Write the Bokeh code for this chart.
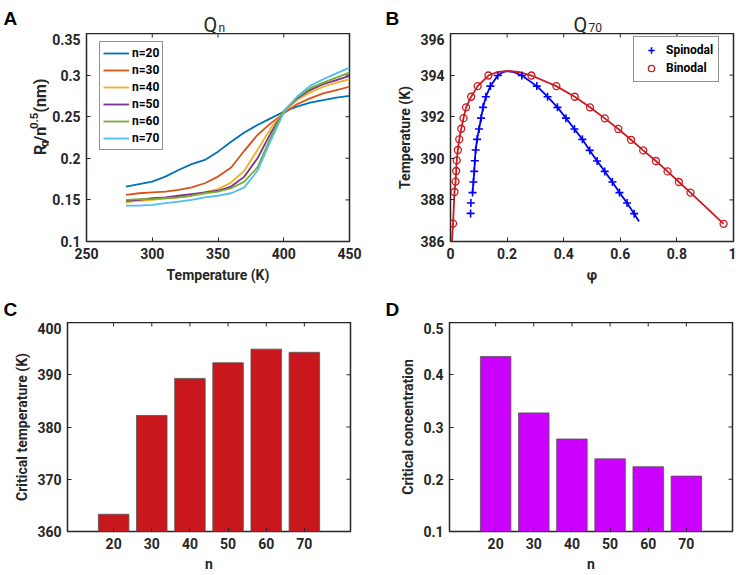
from bokeh.plotting import figure
from bokeh.layouts import column, row
from bokeh.models import (Range1d, FixedTicker, CustomJSTickFormatter,
                          Legend, LegendItem, Label)
from bokeh.core.properties import value
from bokeh.embed import file_html
from bokeh.resources import INLINE

# ---------------- data ----------------
# Panel A: Rg / n^0.5 vs temperature
temperature = [280, 290, 300, 310, 320, 330, 340, 350, 360, 370, 380, 390, 400, 410, 420, 430, 440, 450]
rg_n20 = [0.166, 0.169, 0.172, 0.178, 0.186, 0.193, 0.198, 0.208, 0.220, 0.231, 0.240, 0.248, 0.256, 0.262, 0.267, 0.270, 0.273, 0.275]
rg_n30 = [0.156, 0.158, 0.159, 0.160, 0.162, 0.165, 0.170, 0.178, 0.189, 0.209, 0.228, 0.242, 0.254, 0.265, 0.272, 0.278, 0.282, 0.286]
rg_n40 = [0.147, 0.149, 0.150, 0.152, 0.153, 0.155, 0.159, 0.163, 0.171, 0.185, 0.210, 0.236, 0.256, 0.270, 0.279, 0.286, 0.291, 0.295]
rg_n50 = [0.149, 0.150, 0.152, 0.153, 0.155, 0.157, 0.159, 0.161, 0.166, 0.178, 0.200, 0.230, 0.256, 0.272, 0.282, 0.289, 0.294, 0.299]
rg_n60 = [0.150, 0.151, 0.151, 0.152, 0.153, 0.155, 0.158, 0.160, 0.164, 0.172, 0.189, 0.225, 0.257, 0.273, 0.284, 0.291, 0.297, 0.303]
rg_n70 = [0.143, 0.143, 0.144, 0.146, 0.148, 0.150, 0.153, 0.155, 0.158, 0.165, 0.185, 0.221, 0.255, 0.274, 0.287, 0.295, 0.302, 0.309]
series_labels = ["n=20", "n=30", "n=40", "n=50", "n=60", "n=70"]

# Panel B: phase diagram of Q70
spinodal_phi = [0.071, 0.072, 0.078, 0.081, 0.084, 0.086, 0.089, 0.094, 0.101, 0.108, 0.115, 0.125, 0.141, 0.167,
                0.252, 0.305, 0.343, 0.378, 0.408, 0.438, 0.466, 0.492, 0.518, 0.545, 0.572, 0.597, 0.624, 0.649]
spinodal_T = [387.35, 387.85, 388.35, 388.86, 389.37, 389.88, 390.40, 390.91, 391.41, 391.93, 392.45, 392.96, 393.47, 393.98,
              393.98, 393.47, 392.96, 392.45, 391.93, 391.41, 390.91, 390.38, 389.87, 389.37, 388.86, 388.35, 387.85, 387.34]
spinodal_fit_phi = [0.078, 0.081, 0.084, 0.086, 0.089, 0.094, 0.101, 0.108, 0.115, 0.125, 0.141, 0.167, 0.185, 0.200,
                    0.222, 0.252, 0.305, 0.343, 0.378, 0.408, 0.438, 0.466, 0.492, 0.518, 0.545, 0.572, 0.597, 0.624, 0.649, 0.666]
spinodal_fit_T = [388.35, 388.86, 389.37, 389.88, 390.40, 390.91, 391.41, 391.93, 392.45, 392.96, 393.47, 393.98, 394.14, 394.19,
                  394.15, 393.98, 393.47, 392.96, 392.45, 391.93, 391.41, 390.91, 390.38, 389.87, 389.37, 388.86, 388.35, 387.85, 387.34, 386.96]
binodal_phi = [0.009, 0.014, 0.018, 0.020, 0.022, 0.026, 0.031, 0.038, 0.046, 0.055, 0.073, 0.096, 0.134,
               0.286, 0.374, 0.439, 0.493, 0.545, 0.593, 0.638, 0.681, 0.726, 0.767, 0.807, 0.848, 0.965]
binodal_T = [386.86, 388.38, 388.88, 389.39, 389.90, 390.40, 390.91, 391.42, 391.93, 392.45, 392.96, 393.47, 393.98,
             393.98, 393.47, 392.96, 392.45, 391.92, 391.41, 390.89, 390.38, 389.87, 389.37, 388.86, 388.35, 386.85]
binodal_fit_phi = [0.005, 0.009, 0.014, 0.018, 0.020, 0.022, 0.026, 0.031, 0.038, 0.046, 0.055, 0.073, 0.096, 0.134,
                   0.165, 0.200, 0.240, 0.286, 0.374, 0.439, 0.493, 0.545, 0.593, 0.638, 0.681, 0.726, 0.767, 0.807, 0.848, 0.965]
binodal_fit_T = [386.0, 386.86, 388.38, 388.88, 389.39, 389.90, 390.40, 390.91, 391.42, 391.93, 392.45, 392.96, 393.47, 393.98,
                 394.14, 394.20, 394.15, 393.98, 393.47, 392.96, 392.45, 391.92, 391.41, 390.89, 390.38, 389.87, 389.37, 388.86, 388.35, 386.85]

# Panels C, D: critical values vs chain length
chain_n = [20, 30, 40, 50, 60, 70]
critical_temperature = [363.3, 382.2, 389.3, 392.3, 394.9, 394.3]
critical_concentration = [0.435, 0.327, 0.277, 0.239, 0.224, 0.206]

# ticks
a_xticks = [250, 300, 350, 400, 450]
a_yticks = [0.1, 0.15, 0.2, 0.25, 0.3, 0.35]
b_xticks = [0, 0.2, 0.4, 0.6, 0.8, 1.0]
b_yticks = [386, 388, 390, 392, 394, 396]
c_yticks = [360, 370, 380, 390, 400]
d_yticks = [0.1, 0.2, 0.3, 0.4, 0.5]

# ---------------- style ----------------
AX = "#262626"
FONT = "Roboto"
LETTER_FONT = "Liberation Sans"
LINE_COLORS = ["#0072BD", "#D95319", "#EDB120", "#7E2F8E", "#77AC30", "#4DBEEE"]
RED = "#CC1A1F"
BLUE = "#0000FF"
BAR_RED = "#C8181E"
BAR_MAGENTA = "#CC00FF"
TICK_PX = 4

fmt_code = "return String(parseFloat(tick.toFixed(4)));"


def style_axis(ax, ticks, label=None, label_standoff=5):
    ax.ticker = FixedTicker(ticks=ticks)
    ax.formatter = CustomJSTickFormatter(code=fmt_code)
    ax.major_tick_in = TICK_PX
    ax.major_tick_out = 0
    ax.minor_tick_line_color = None
    ax.axis_line_color = None
    ax.major_tick_line_color = AX
    ax.major_tick_line_width = 1
    ax.major_label_text_font = FONT
    ax.major_label_text_font_style = "bold"
    ax.major_label_text_font_size = "14px"
    ax.major_label_text_color = AX
    ax.major_label_standoff = 6
    if label is not None:
        ax.axis_label = label
        ax.axis_label_text_font = FONT
        ax.axis_label_text_font_style = "bold"
        ax.axis_label_text_font_size = "14px"
        ax.axis_label_text_color = AX
        ax.axis_label_standoff = label_standoff


def make_fig(w, h, xr, yr, xt, yt, bl, br, bt, bb, fw, fh, xlabel=None, ylabel=None, xls=5):
    p = figure(width=w, height=h, x_range=Range1d(*xr), y_range=Range1d(*yr), title=None,
               output_backend="svg", toolbar_location=None,
               min_border_left=bl, min_border_right=br, min_border_top=bt, min_border_bottom=bb)
    p.xgrid.visible = False
    p.ygrid.visible = False
    p.outline_line_color = AX
    p.outline_line_width = 1.5
    p.outline_line_alpha = 1.0
    p.background_fill_color = "white"
    p.border_fill_color = "white"
    style_axis(p.xaxis[0], xt, xlabel, xls)
    style_axis(p.yaxis[0], yt, ylabel, 4)
    # mirrored inward ticks on the top and right edges of the box
    dy = (yr[1] - yr[0]) * TICK_PX / fh
    dx = (xr[1] - xr[0]) * TICK_PX / fw
    p.segment(x0=xt, y0=[yr[1]] * len(xt), x1=xt, y1=[yr[1] - dy] * len(xt),
              line_color=AX, line_width=1)
    p.segment(x0=[xr[1]] * len(yt), y0=yt, x1=[xr[1] - dx] * len(yt), y1=yt,
              line_color=AX, line_width=1)
    return p


def text_strip(w, h):
    # a blank figure (pixel coordinates) that only carries texts
    s = figure(width=w, height=h, x_range=Range1d(0, w), y_range=Range1d(0, h), title=None,
               output_backend="svg", toolbar_location=None, x_axis_type=None, y_axis_type=None,
               min_border_left=0, min_border_right=0, min_border_top=0, min_border_bottom=0)
    s.xgrid.visible = False
    s.ygrid.visible = False
    s.outline_line_color = None
    s.background_fill_color = "white"
    s.border_fill_color = "white"
    return s


def put(s, x, y, txt, size, style="normal", font=FONT, color=AX):
    s.add_layout(Label(x=x, y=y, x_units="data", y_units="data", text=txt,
                       text_font=font, text_font_size=size, text_font_style=style,
                       text_color=color, text_align="left", text_baseline="alphabetic"))


def put_rot(s, x, y, txt, size, style="bold"):
    s.add_layout(Label(x=x, y=y, x_units="data", y_units="data", text=txt,
                       text_font=FONT, text_font_size=size, text_font_style=style,
                       text_color=AX, angle=90, angle_units="deg",
                       text_align="left", text_baseline="alphabetic"))


# ---------------- header strip (letters A, B and titles) ----------------
hdr1 = text_strip(736, 33)          # y 0..33
put(hdr1, 3, 15, "A", "19px", "bold", LETTER_FONT, "black")
put(hdr1, 203, 9, "Q", "20px")
put(hdr1, 218, 6, "n", "12px")
put(hdr1, 385, 15, "B", "19px", "bold", LETTER_FONT, "black")
put(hdr1, 573, 9, "Q", "20px")
put(hdr1, 588, 6, "70", "12px")

FH1 = 208
FH2 = 209

# ---------------- y label strip for panel A ----------------
ylabA = text_strip(49, 255)         # x 0..49, y 33..288
xb = 40
y0 = 106
put_rot(ylabA, xb, y0, "R", "16px")
put_rot(ylabA, xb + 3.5, y0 + 10, "g", "11.5px")
put_rot(ylabA, xb, y0 + 16.4, "/n", "16px")
put_rot(ylabA, xb - 7, y0 + 31.8, "0.5", "11.5px")
put_rot(ylabA, xb, y0 + 52, "(nm)", "16px")

# ---------------- Panel A ----------------
pA = make_fig(326, 255, (250, 450), (0.1, 0.35), a_xticks, a_yticks, 34, 26, 0, 47, 266, FH1,
              xlabel="Temperature (K)")
items = []
for ys, col, lab in zip([rg_n20, rg_n30, rg_n40, rg_n50, rg_n60, rg_n70], LINE_COLORS, series_labels):
    r = pA.line(temperature, ys, line_color=col, line_width=1.8)
    items.append(LegendItem(label=lab, renderers=[r]))
legA = Legend(items=items, location=(13, FH1 - 10 - 107), padding=3, spacing=1,
              glyph_width=26, glyph_height=16, label_height=16, label_standoff=3,
              label_text_font=FONT, label_text_font_style="bold", label_text_font_size="12px",
              label_text_color="black", border_line_color=AX, border_line_width=1.5,
              background_fill_color="white", background_fill_alpha=1.0)
pA.add_layout(legA)

# ---------------- Panel B ----------------
pB = make_fig(361, 255, (0, 1), (386, 396), b_xticks, b_yticks, 75, 3, 0, 47, 283, FH1,
              xlabel="φ", ylabel="Temperature (K)")
pB.line(spinodal_fit_phi, spinodal_fit_T, line_color=BLUE, line_width=1.8)
pB.line(binodal_fit_phi, binodal_fit_T, line_color=RED, line_width=1.8)
rs = pB.scatter(spinodal_phi, spinodal_T, marker="cross", size=8, line_color=BLUE, line_width=1.6)
rb = pB.scatter(binodal_phi, binodal_T, marker="circle", size=7, line_color=RED, fill_color=None, line_width=1.3)
legB = Legend(items=[LegendItem(label="Spinodal", renderers=[rs]), LegendItem(label="Binodal", renderers=[rb])],
              location=(183, FH1 - 5 - 44), padding=5, spacing=2,
              glyph_width=24, glyph_height=16, label_height=16, label_standoff=3,
              label_text_font=FONT, label_text_font_style="bold", label_text_font_size="12px",
              label_text_color="black", border_line_color=AX, border_line_width=1.5,
              background_fill_color="white", background_fill_alpha=1.0)
pB.add_layout(legB)

# ---------------- middle strip (letters C, D) ----------------
hdr2 = text_strip(736, 34)          # y 288..322
put(hdr2, 3, 13, "C", "19px", "bold", LETTER_FONT, "black")
put(hdr2, 385, 13, "D", "19px", "bold", LETTER_FONT, "black")

# ---------------- Panel C ----------------
pC = make_fig(375, 253, (7.9, 82.1), (360, 400), chain_n, c_yticks, 67, 25, 0, 44, 283, FH2,
              xlabel="n", ylabel="Critical temperature (K)", xls=4)
pC.vbar(x=chain_n, top=critical_temperature, bottom=c_yticks[0], width=8,
        fill_color=BAR_RED, line_color="#555555", line_width=0.8)

# ---------------- Panel D ----------------
pD = make_fig(361, 253, (7.9, 82.1), (0.1, 0.5), chain_n, d_yticks, 74, 4, 0, 44, 283, FH2,
              xlabel="n", ylabel="Critical concentration", xls=4)
pD.vbar(x=chain_n, top=critical_concentration, bottom=d_yticks[0], width=8,
        fill_color=BAR_MAGENTA, line_color="#555555", line_width=0.8)

layout = column(hdr1, row(ylabA, pA, pB), hdr2, row(pC, pD))
open("out.html", "w").write(file_html(layout, INLINE))
